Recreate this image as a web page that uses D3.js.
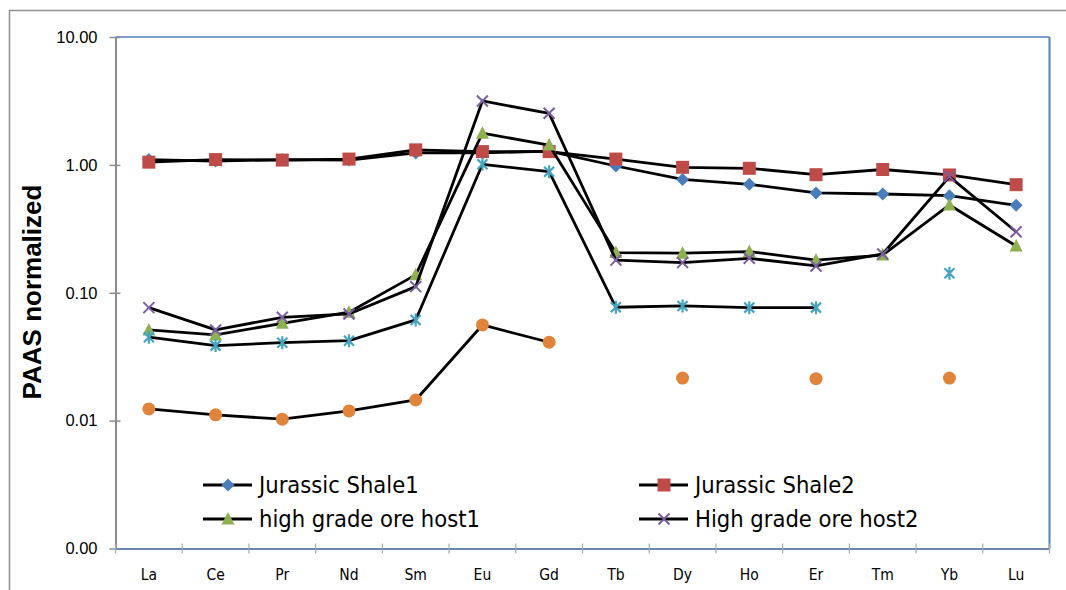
<!DOCTYPE html>
<html>
<head>
<meta charset="utf-8">
<script src="https://cdn.jsdelivr.net/npm/d3@7"></script>
<style>
  html, body { margin: 0; padding: 0; background: #fff; }
  svg { display: block; }
</style>
</head>
<body>
<svg id="chart" width="1066" height="590"></svg>
<script>
// REE elements on the x axis
const elements = ["La","Ce","Pr","Nd","Sm","Eu","Gd","Tb","Dy","Ho","Er","Tm","Yb","Lu"];

// PAAS-normalized concentrations (null = not determined)
const jurassicShale1 = [1.10, 1.07, 1.10, 1.09, 1.24, 1.24, 1.28, 0.98, 0.77, 0.705, 0.603, 0.592, 0.574, 0.483];
const jurassicShale2 = [1.05, 1.10, 1.09, 1.11, 1.31, 1.27, 1.27, 1.11, 0.957, 0.94, 0.838, 0.92, 0.834, 0.70];
const oreHost1 = [0.0512, 0.0468, 0.0577, 0.0704, 0.138, 1.77, 1.43, 0.206, 0.204, 0.21, 0.180, 0.197, 0.486, 0.232];
const oreHost2 = [0.0765, 0.0512, 0.0643, 0.0683, 0.1116, 3.16, 2.53, 0.180, 0.172, 0.186, 0.162, 0.201, 0.809, 0.300];
const sample5 = [0.0449, 0.0386, 0.0407, 0.0422, 0.0613, 1.01, 0.885, 0.077, 0.0789, 0.0765, 0.0765, null, 0.142, null];
const sample6 = [0.01235, 0.0111, 0.01026, 0.0119, 0.0145, 0.0560, 0.0410, null, 0.0215, null, 0.0213, null, 0.0215, null];

// Y axis tick values
const yTicks = [0.001, 0.01, 0.1, 1, 10];

const series = [
  { name: "Jurassic Shale1", values: jurassicShale1, marker: "diamond", color: "#4A7EBB", legend: true },
  { name: "Jurassic Shale2", values: jurassicShale2, marker: "square", color: "#BE4B48", legend: true },
  { name: "high grade ore host1", values: oreHost1, marker: "triangle", color: "#8FB050", legend: true },
  { name: "High grade ore host2", values: oreHost2, marker: "cross", color: "#7B5EA0", legend: true },
  { name: "sample5", values: sample5, marker: "star", color: "#45A3C0", legend: false },
  { name: "sample6", values: sample6, marker: "circle", color: "#E0843C", legend: false }
];

const svg = d3.select("#chart");

const plot = { left: 115.5, right: 1049.5, top: 37, bottom: 548.5 };

const x = d3.scaleBand().domain(elements).range([plot.left, plot.right]).paddingInner(0).paddingOuter(0);
const y = d3.scaleLog().domain([0.001, 10]).range([plot.bottom, plot.top]);

// outer chart frame
svg.append("line").attr("x1", 9).attr("x2", 1066).attr("y1", 10.5).attr("y2", 10.5)
  .attr("stroke", "#8f8f8f").attr("stroke-width", 1.5);
svg.append("line").attr("x1", 9.5).attr("x2", 9.5).attr("y1", 10).attr("y2", 590)
  .attr("stroke", "#8f8f8f").attr("stroke-width", 1.5);

// plot area border (top and right)
svg.append("line").attr("x1", plot.left).attr("x2", plot.right).attr("y1", plot.top).attr("y2", plot.top)
  .attr("stroke", "#4F81BD").attr("stroke-width", 1.5);
svg.append("line").attr("x1", plot.right).attr("x2", plot.right).attr("y1", plot.top).attr("y2", plot.bottom)
  .attr("stroke", "#4F81BD").attr("stroke-width", 2);

// Y axis
const yAxis = d3.axisLeft(y).tickValues(yTicks).tickFormat(d3.format(".2f")).tickSize(0).tickPadding(18);
const gy = svg.append("g").attr("transform", `translate(${plot.left},0)`).call(yAxis);
gy.select(".domain").attr("stroke", "#868E98").attr("stroke-width", 2);
gy.selectAll(".tick text").attr("font-family", "Liberation Sans, Arial, sans-serif").attr("font-size", 16.5).attr("fill", "#000");
gy.selectAll(".tick").append("line").attr("x1", -6).attr("x2", 5).attr("stroke", "#868E98").attr("stroke-width", 1.5);

// X axis: ticks at category boundaries
const xAxis = d3.axisBottom(x).tickSize(0).tickPadding(20);
const gx = svg.append("g").attr("transform", `translate(0,${plot.bottom})`).call(xAxis);
gx.select(".domain").attr("stroke", "#6A86AE").attr("stroke-width", 2);
gx.selectAll(".tick text").attr("font-family", "Liberation Sans Narrow, DejaVu Sans Condensed, sans-serif").attr("font-size", 15.5).attr("fill", "#000");
const bounds = d3.range(elements.length + 1).map(i => plot.left + i * x.bandwidth());
gx.selectAll(".bound").data(bounds).enter().append("line")
  .attr("x1", d => d).attr("x2", d => d).attr("y1", -5).attr("y2", 5)
  .attr("stroke", "#A8A8A8").attr("stroke-width", 1.2);

// Y axis title
svg.append("text")
  .attr("transform", `translate(41,292) rotate(-90)`)
  .attr("text-anchor", "middle")
  .attr("font-family", "Liberation Sans, Arial, sans-serif")
  .attr("font-weight", "bold")
  .attr("font-size", 26)
  .text("PAAS normalized");

const cx = i => x(elements[i]) + x.bandwidth() / 2;

function drawMarker(g, type, color, px, py) {
  const s = 6.5;
  if (type === "diamond") {
    g.append("path").attr("d", `M${px},${py - s}L${px + s},${py}L${px},${py + s}L${px - s},${py}Z`).attr("fill", color);
  } else if (type === "square") {
    g.append("rect").attr("x", px - s).attr("y", py - s).attr("width", 2 * s).attr("height", 2 * s)
      .attr("fill", color);
  } else if (type === "triangle") {
    g.append("path").attr("d", `M${px},${py - 7}L${px + 6.5},${py + 5.5}L${px - 6.5},${py + 5.5}Z`).attr("fill", color);
  } else if (type === "cross") {
    const c = 5.5;
    g.append("path").attr("d", `M${px - c},${py - c}L${px + c},${py + c}M${px - c},${py + c}L${px + c},${py - c}`)
      .attr("stroke", color).attr("stroke-width", 2).attr("fill", "none");
  } else if (type === "star") {
    const c = 5;
    g.append("path").attr("d", `M${px - c},${py - c}L${px + c},${py + c}M${px - c},${py + c}L${px + c},${py - c}M${px},${py - 6.5}L${px},${py + 6.5}`)
      .attr("stroke", color).attr("stroke-width", 2.2).attr("fill", "none");
  } else if (type === "circle") {
    g.append("circle").attr("cx", px).attr("cy", py).attr("r", 6.5).attr("fill", color);
  }
}

const line = d3.line()
  .defined(d => d.v != null)
  .x(d => cx(d.i))
  .y(d => y(d.v));

series.forEach(s => {
  const g = svg.append("g");
  const pts = s.values.map((v, i) => ({ v, i }));
  g.append("path").attr("d", line(pts)).attr("fill", "none").attr("stroke", "#000").attr("stroke-width", 2.8)
    .attr("stroke-linejoin", "round");
  pts.filter(d => d.v != null).forEach(d => drawMarker(g, s.marker, s.color, cx(d.i), y(d.v)));
});

// Legend
const legendItems = series.filter(s => s.legend);
const legendPos = [
  { x: 203, y: 485 }, { x: 639, y: 485 },
  { x: 203, y: 519 }, { x: 639, y: 519 }
];
legendItems.forEach((s, k) => {
  const p = legendPos[k];
  const g = svg.append("g");
  g.append("line").attr("x1", p.x).attr("x2", p.x + 49).attr("y1", p.y).attr("y2", p.y)
    .attr("stroke", "#000").attr("stroke-width", 2.8);
  drawMarker(g, s.marker, s.color, p.x + 25, p.y);
  g.append("text").attr("x", p.x + 56).attr("y", p.y).attr("dy", "0.35em")
    .attr("font-family", "Liberation Sans Narrow, DejaVu Sans Condensed, sans-serif")
    .attr("font-size", 23.5)
    .text(s.name);
});
</script>
</body>
</html>
